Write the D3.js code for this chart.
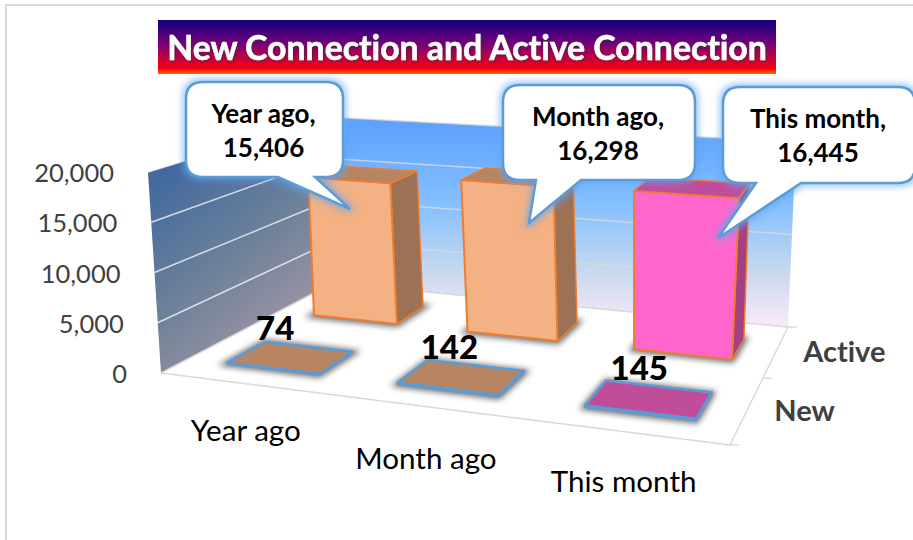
<!DOCTYPE html>
<html lang="en">
<head>
<meta charset="UTF-8" />
<title>New Connection and Active Connection</title>
<script src="https://d3js.org/d3.v7.min.js"></script>
<style>
    body { margin: 0; background: #fff; }
    svg { display: block; }
    text { font-family: Lato, "Open Sans", sans-serif; font-variant-ligatures: none; }
</style>
</head>
<body>
<script>
    // data
    var categories = ["Year ago", "Month ago", "This month"];
    var seriesNames = ["New", "Active"];
    var newValues = [74, 142, 145];
    var activeValues = [15406, 16298, 16445];
    var valueTicks = [0, 5000, 10000, 15000, 20000];
    var titleText = "New Connection and Active Connection";
    var pointColors = ["#f4b183", "#f4b183", "#ff66cc"];

    var w = 913, h = 540;
    var svg = d3.select("body").append("svg").attr("width", w).attr("height", h);

    // corners of the 3d box on screen: front-left, front-right, back-right, back-left
    var floorQuad = [[161, 373], [730, 445], [788, 327], [333, 283]];
    var topQuad = [[148, 172], [752, 222], [796, 142], [328, 117]];

    // unit square -> quad homography
    function homography(q) {
        var x0 = q[0][0], y0 = q[0][1], x1 = q[1][0], y1 = q[1][1],
            x2 = q[2][0], y2 = q[2][1], x3 = q[3][0], y3 = q[3][1];
        var dx1 = x1 - x2, dx2 = x3 - x2, sx = x0 - x1 + x2 - x3,
            dy1 = y1 - y2, dy2 = y3 - y2, sy = y0 - y1 + y2 - y3;
        var d = dx1 * dy2 - dx2 * dy1;
        var g = (sx * dy2 - dx2 * sy) / d, k = (dx1 * sy - sx * dy1) / d;
        var a = x1 - x0 + g * x1, b = x3 - x0 + k * x3,
            e = y1 - y0 + g * y1, f = y3 - y0 + k * y3;
        return function (u, v) {
            var t = g * u + k * v + 1;
            return [(a * u + b * v + x0) / t, (e * u + f * v + y0) / t];
        };
    }
    var floorAt = homography(floorQuad), topAt = homography(topQuad);

    // u along categories, d into depth, v up (all 0..1)
    function project(u, d, v) {
        var p0 = floorAt(u, d), p1 = topAt(u, d);
        return [p0[0] + (p1[0] - p0[0]) * v, p0[1] + (p1[1] - p0[1]) * v];
    }

    var xScale = d3.scaleBand().domain(categories).range([0.006, 1.006]).paddingInner(0.45).paddingOuter(0.225);
    var zScale = d3.scaleBand().domain(seriesNames).range([-0.02, 0.98]).paddingInner(0.6).paddingOuter(0.3);
    var yScale = d3.scaleLinear().domain([0, 20000]).range([0, 1]);
    var fmt = d3.format(",");

    function pts(list) {
        return list.map(function (p) { return p[0].toFixed(1) + "," + p[1].toFixed(1); }).join(" ");
    }

    var defs = svg.append("defs");
    function vGrad(id, x1, y1, x2, y2, stops, user) {
        var g = defs.append("linearGradient").attr("id", id)
            .attr("x1", x1).attr("y1", y1).attr("x2", x2).attr("y2", y2);
        if (user) g.attr("gradientUnits", "userSpaceOnUse");
        stops.forEach(function (s) {
            g.append("stop").attr("offset", s[0]).attr("stop-color", s[1]);
        });
    }
    vGrad("titleFill", 0, 0, 0, 1, [[0, "#12007f"], [0.45, "#7a007a"], [0.9, "#fa0010"], [1, "#ff6a00"]]);
    vGrad("backFill", 0, 125, 0, 325, [[0, "#5ea2ff"], [0.4, "#85c0ff"], [0.72, "#c4d8ee"], [1, "#fbe9f9"]], true);
    vGrad("leftFill", 170, 170, 310, 340, [[0, "#43699f"], [0.5, "#6e8299"], [1, "#ab98a8"]], true);

    var blur = defs.append("filter").attr("id", "blur")
        .attr("x", "-30%").attr("y", "-60%").attr("width", "160%").attr("height", "220%");
    blur.append("feGaussianBlur").attr("stdDeviation", 3);

    var glow = defs.append("filter").attr("id", "glow")
        .attr("x", "-20%").attr("y", "-20%").attr("width", "140%").attr("height", "140%");
    glow.append("feMorphology").attr("in", "SourceAlpha").attr("operator", "dilate").attr("radius", 2).attr("result", "fat");
    glow.append("feGaussianBlur").attr("in", "fat").attr("stdDeviation", 3.5).attr("result", "soft");
    glow.append("feFlood").attr("flood-color", "#5aa5f5").attr("flood-opacity", 0.65);
    glow.append("feComposite").attr("in2", "soft").attr("operator", "in").attr("result", "halo");
    var gm = glow.append("feMerge");
    gm.append("feMergeNode").attr("in", "halo");
    gm.append("feMergeNode").attr("in", "SourceGraphic");

    var tshadow = defs.append("filter").attr("id", "tshadow")
        .attr("x", "-5%").attr("y", "-20%").attr("width", "110%").attr("height", "140%");
    tshadow.append("feDropShadow").attr("dx", 0.8).attr("dy", 0.8).attr("stdDeviation", 0.8)
        .attr("flood-color", "#333").attr("flood-opacity", 0.8);

    // outer frame, runs off the right and bottom of the picture
    svg.append("path").attr("d", "M6,540V5H913").attr("fill", "none").attr("stroke", "#d9d9d9").attr("stroke-width", 2);

    // title
    svg.append("rect").attr("x", 158).attr("y", 20).attr("width", 618).attr("height", 54).attr("fill", "url(#titleFill)");
    svg.append("text").attr("x", 467).attr("y", 60).attr("text-anchor", "middle")
        .attr("font-size", 33.8).attr("font-weight", 700).attr("fill", "#fff")
        .attr("stroke", "#fff").attr("stroke-width", 0.5).attr("filter", "url(#tshadow)")
        .text(titleText);

    // walls and floor
    svg.append("polygon").attr("points", pts([project(0, 1, 0), project(1, 1, 0), project(1, 1, 1), project(0, 1, 1)]))
        .attr("fill", "url(#backFill)");
    svg.append("polygon").attr("points", pts([project(0, 0, 0), project(0, 1, 0), project(0, 1, 1), project(0, 0, 1)]))
        .attr("fill", "url(#leftFill)");

    var floorEdges = [[[0, 0], [1, 0]], [[1, 0], [1, 1]], [[0, 1], [1, 1]], [[0, 0], [0, 1]]];
    svg.selectAll(".edge").data(floorEdges).enter().append("polyline").attr("class", "edge")
        .attr("points", function (e) { return pts([project(e[0][0], e[0][1], 0), project(e[1][0], e[1][1], 0)]); })
        .attr("fill", "none").attr("stroke", "#d9d9d9").attr("stroke-width", 1.5);

    // little tick marks on the depth axis
    svg.selectAll(".dtick").data([0, 0.5, 1]).enter().append("line").attr("class", "dtick")
        .attr("x1", function (d) { return project(1, d, 0)[0]; })
        .attr("y1", function (d) { return project(1, d, 0)[1]; })
        .attr("x2", function (d) { return project(1, d, 0)[0] + 9; })
        .attr("y2", function (d) { return project(1, d, 0)[1]; })
        .attr("stroke", "#d9d9d9").attr("stroke-width", 1.5);

    // gridlines across both walls
    var gridV = valueTicks.slice(1);
    svg.selectAll(".gridL").data(gridV).enter().append("line").attr("class", "gridL")
        .attr("x1", function (d) { return project(0, 0, yScale(d))[0]; })
        .attr("y1", function (d) { return project(0, 0, yScale(d))[1]; })
        .attr("x2", function (d) { return project(0, 1, yScale(d))[0]; })
        .attr("y2", function (d) { return project(0, 1, yScale(d))[1]; })
        .attr("stroke", "#fff").attr("stroke-opacity", 0.75).attr("stroke-width", 1.5);
    svg.selectAll(".gridB").data(gridV).enter().append("line").attr("class", "gridB")
        .attr("x1", function (d) { return project(0, 1, yScale(d))[0]; })
        .attr("y1", function (d) { return project(0, 1, yScale(d))[1]; })
        .attr("x2", function (d) { return project(1, 1, yScale(d))[0]; })
        .attr("y2", function (d) { return project(1, 1, yScale(d))[1]; })
        .attr("stroke", "#d9d9d9").attr("stroke-opacity", 0.8).attr("stroke-width", 1.5);

    // axis labels
    svg.selectAll(".yLabel").data(valueTicks).enter().append("text").attr("class", "yLabel")
        .attr("x", function (d) { return project(0, 0, yScale(d))[0] - 34; })
        .attr("y", function (d) { return project(0, 0, yScale(d))[1] + 10; })
        .attr("text-anchor", "end").attr("font-size", 25.5).attr("fill", "#404040")
        .text(function (d) { return fmt(d); });

    var xLabelDx = [-2, -2, -3], xLabelDy = [57, 62, 60];
    svg.selectAll(".xLabel").data(categories).enter().append("text").attr("class", "xLabel")
        .attr("x", function (d, i) { return project(xScale(d) + xScale.bandwidth() / 2, 0, 0)[0] + xLabelDx[i]; })
        .attr("y", function (d, i) { return project(xScale(d) + xScale.bandwidth() / 2, 0, 0)[1] + xLabelDy[i]; })
        .attr("text-anchor", "middle").attr("font-size", 29.6).attr("fill", "#000")
        .text(function (d) { return d; });

    svg.selectAll(".zLabel").data(seriesNames).enter().append("text").attr("class", "zLabel")
        .attr("x", function (d) { return project(1, zScale(d) + zScale.bandwidth() / 2, 0)[0] + 28; })
        .attr("y", function (d) { return project(1, zScale(d) + zScale.bandwidth() / 2, 0)[1] + 9; })
        .attr("font-size", 29).attr("font-weight", 700).attr("fill", "#404040")
        .text(function (d) { return d; });

    // bars, back row first
    function drawBars(series, values, stroke) {
        var d0 = zScale(series), d1 = d0 + zScale.bandwidth();
        var g = svg.append("g");
        values.forEach(function (val, i) {
            var u0 = xScale(categories[i]), u1 = u0 + xScale.bandwidth(), v = yScale(val);
            var c = d3.rgb(pointColors[i]);
            g.append("polygon")
                .attr("points", pts([project(u0, d0, 0), project(u1, d0, 0), project(u1, d1, 0), project(u0, d1, 0)]))
                .attr("fill", "#000").attr("stroke", "#000").attr("stroke-width", 6).attr("opacity", 0.6).attr("filter", "url(#blur)");
            g.append("polygon")
                .attr("points", pts([project(u1, d0, 0), project(u1, d1, 0), project(u1, d1, v), project(u1, d0, v)]))
                .attr("fill", c.darker(1.25)).attr("stroke", stroke).attr("stroke-width", 1.5);
            g.append("polygon")
                .attr("points", pts([project(u0, d0, 0), project(u1, d0, 0), project(u1, d0, v), project(u0, d0, v)]))
                .attr("fill", c).attr("stroke", stroke).attr("stroke-width", 2);
            g.append("polygon")
                .attr("points", pts([project(u0, d0, v), project(u1, d0, v), project(u1, d1, v), project(u0, d1, v)]))
                .attr("fill", c.darker(0.8)).attr("stroke", stroke).attr("stroke-width", series === "New" ? 2.5 : 1.5)
                .attr("stroke-linejoin", "round");
        });
    }
    drawBars("Active", activeValues, "#ed7d31");
    drawBars("New", newValues, "#5b9bd5");

    // data labels for the flat row
    var newLabelDx = [-33, -26, -19];
    svg.selectAll(".newLabel").data(newValues).enter().append("text").attr("class", "newLabel")
        .attr("x", function (d, i) { return project(xScale(categories[i]) + xScale.bandwidth() / 2, zScale("New") + zScale.bandwidth(), 0)[0] + newLabelDx[i]; })
        .attr("y", function (d, i) { return project(xScale(categories[i]) + xScale.bandwidth() / 2, zScale("New") + zScale.bandwidth(), 0)[1] - 8; })
        .attr("text-anchor", "middle").attr("font-size", 33).attr("font-weight", 900).attr("fill", "#000")
        .text(function (d) { return fmt(d); });

    // callouts: box and tail tip placed by hand, text comes from the data
    var calloutBoxes = [
        { x: 186, y: 82, w: 157, h: 95, base: [278, 315], tip: [350, 209] },
        { x: 503, y: 85, w: 192, h: 95, base: [536, 581], tip: [529, 223] },
        { x: 723, y: 87, w: 192, h: 96, base: [756, 801], tip: [718, 238] }
    ];
    function calloutPath(b) {
        var r = 17, x1 = b.x + b.w, y1 = b.y + b.h;
        return "M" + (b.x + r) + "," + b.y + "H" + (x1 - r) +
            "Q" + x1 + "," + b.y + " " + x1 + "," + (b.y + r) + "V" + (y1 - r) +
            "Q" + x1 + "," + y1 + " " + (x1 - r) + "," + y1 + "H" + b.base[1] +
            "L" + b.tip[0] + "," + b.tip[1] + "L" + b.base[0] + "," + y1 + "H" + (b.x + r) +
            "Q" + b.x + "," + y1 + " " + b.x + "," + (y1 - r) + "V" + (b.y + r) +
            "Q" + b.x + "," + b.y + " " + (b.x + r) + "," + b.y + "Z";
    }
    var callouts = svg.selectAll(".callout").data(calloutBoxes).enter().append("g").attr("class", "callout");
    callouts.append("path").attr("d", calloutPath)
        .attr("fill", "#fff").attr("stroke", "#5b9bd5").attr("stroke-width", 2.5).attr("filter", "url(#glow)");
    callouts.append("text").attr("x", function (b) { return b.x + b.w / 2 - 1; }).attr("y", function (b) { return b.y + 41; })
        .attr("text-anchor", "middle").attr("font-size", 26).attr("font-weight", 700).attr("fill", "#000")
        .text(function (b, i) { return categories[i] + ","; });
    callouts.append("text").attr("x", function (b) { return b.x + b.w / 2 - 1; }).attr("y", function (b) { return b.y + 75; })
        .attr("text-anchor", "middle").attr("font-size", 26).attr("font-weight", 700).attr("fill", "#000")
        .text(function (b, i) { return fmt(activeValues[i]); });
</script>
</body>
</html>
